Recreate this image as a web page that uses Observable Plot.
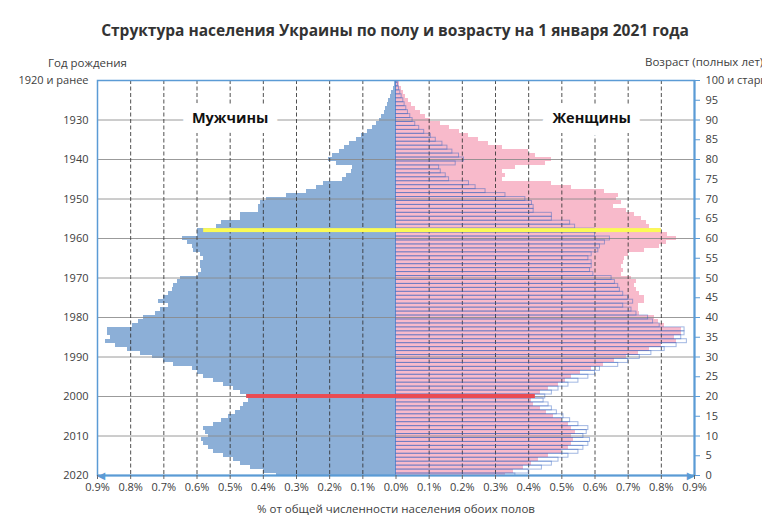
<!DOCTYPE html>
<html><head><meta charset="utf-8">
<script src="https://cdn.jsdelivr.net/npm/d3@7"></script>
<script src="https://cdn.jsdelivr.net/npm/@observablehq/plot@0.6"></script>
<style>
body{margin:0;background:#fff;font-family:"Open Sans",sans-serif;color:#404040}
#wrap{position:relative;width:762px;height:523px;overflow:hidden;background:#fff}
#title{position:absolute;top:20px;left:0;width:790px;line-height:20px;text-align:center;font-weight:bold;font-size:15.5px;color:#333}
.hdr{position:absolute;font-size:11.5px;line-height:16px;color:#404040;white-space:nowrap}
#chart{position:absolute;top:70px;left:0}
</style></head><body>
<div id="wrap">
<div id="title">Структура населения Украины по полу и возрасту на 1 января 2021 года</div>
<div class="hdr" style="left:48px;top:55px">Год рождения</div>
<div class="hdr" style="left:645px;top:54px">Возраст (полных лет)</div>
<div id="chart"></div>
</div>
<script>
// ---- data (share of total population, %, by completed age 0..100+) ----
const ages = d3.range(0, 101);
const male = [
0.36,0.40,0.44,0.47,0.49,0.52,0.55,0.565,0.58,0.585,
0.565,0.575,0.58,0.55,0.525,0.505,0.485,0.47,0.46,0.445,
0.45,0.47,0.49,0.52,0.55,0.58,0.60,0.615,0.67,0.70,
0.735,0.77,0.81,0.846,0.877,0.86,0.87,0.87,0.795,0.775,
0.76,0.725,0.71,0.685,0.715,0.70,0.685,0.675,0.67,0.66,
0.65,0.595,0.585,0.59,0.59,0.58,0.59,0.61,0.615,0.63,
0.645,0.60,0.60,0.54,0.525,0.47,0.47,0.415,0.415,0.41,
0.39,0.33,0.27,0.24,0.22,0.16,0.15,0.135,0.13,0.18,
0.205,0.19,0.17,0.155,0.14,0.12,0.105,0.085,0.07,0.058,
0.05,0.043,0.036,0.031,0.026,0.022,0.017,0.013,0.009,0.006,
0.004];
const female = [
0.33,0.355,0.385,0.41,0.43,0.46,0.50,0.52,0.53,0.535,
0.53,0.54,0.53,0.52,0.50,0.475,0.455,0.435,0.415,0.41,
0.42,0.435,0.46,0.49,0.51,0.53,0.555,0.59,0.625,0.66,
0.695,0.73,0.765,0.80,0.845,0.84,0.86,0.86,0.81,0.79,
0.78,0.735,0.73,0.73,0.75,0.75,0.735,0.725,0.72,0.725,
0.71,0.68,0.685,0.68,0.685,0.69,0.70,0.75,0.795,0.815,
0.845,0.82,0.80,0.765,0.755,0.74,0.72,0.695,0.655,0.68,
0.665,0.67,0.63,0.53,0.47,0.32,0.33,0.32,0.36,0.45,
0.47,0.42,0.40,0.32,0.28,0.25,0.22,0.19,0.16,0.135,
0.105,0.09,0.075,0.06,0.048,0.038,0.03,0.022,0.016,0.011,
0.01];
// highlighted cohorts: born 1958/59 (age 62) and born 2000 (age 20)
const highlightAges = [62, 20];
const highlightMale = [0.58, 0.45];
const highlightFemale = [0.80, 0.42];
// tick labels
const yearTickAges = [100, 90, 80, 70, 60, 50, 40, 30, 20, 10, 0];
const yearTickLabels = ["1920 и ранее", "1930", "1940", "1950", "1960", "1970", "1980", "1990", "2000", "2010", "2020"];
const ageTicks = [0, 5, 10, 15, 20, 25, 30, 35, 40, 45, 50, 55, 60, 65, 70, 75, 80, 85, 90, 95, 100];
const ageTickLabels = ["0","5","10","15","20","25","30","35","40","45","50","55","60","65","70","75","80","85","90","95","100 и старше"];
const xTicks = [-0.9,-0.8,-0.7,-0.6,-0.5,-0.4,-0.3,-0.2,-0.1,0,0.1,0.2,0.3,0.4,0.5,0.6,0.7,0.8,0.9];
const dashedTicks = [-0.8,-0.7,-0.6,-0.5,-0.4,-0.3,-0.2,-0.1,0.1,0.2,0.3,0.4,0.5,0.6,0.7,0.8];
const gridAges = [10, 20, 30, 40, 50, 60, 70, 80, 90];
const sexLabels = ["Мужчины", "Женщины"];
const xTitle = "% от общей численности населения обоих полов";

// ---- build ----
const rows = ages.map((a, i) => ({age: a, male: male[i], female: female[i]}));
const hl = highlightAges.map((a, i) => ({age: a, male: highlightMale[i], female: highlightFemale[i]}));
const BLUE = "#5b9bd5";
const y1 = d => d.age - 0.5, y2 = d => d.age + 0.5;

const chart = Plot.plot({
  width: 762, height: 453,
  marginTop: 10, marginBottom: 48, marginLeft: 97, marginRight: 68,
  style: {fontFamily: "Open Sans", fontSize: "11px", color: "#404040", background: "white", overflow: "visible"},
  x: {domain: [-0.9, 0.9], label: null},
  y: {domain: [0, 100], label: null},
  color: {type: "ordinal", domain: highlightAges, range: ["#fbfb55", "#ea4b52"]},
  marks: [
    Plot.rect(rows, {x1: 0, x2: d => -d.male, y1, y2, fill: "#8cafd7", clip: true, shapeRendering: "crispEdges"}),
    Plot.rect(rows, {x1: 0, x2: "female", y1, y2, fill: "#f8bacb", clip: true, shapeRendering: "crispEdges"}),
    Plot.ruleY(gridAges, {stroke: "#8a8a8a", strokeOpacity: 0.85}),
    Plot.ruleX(dashedTicks, {stroke: "#333", strokeDasharray: "4,2.5", strokeOpacity: 0.85}),
    Plot.rect(rows, {x1: 0, x2: "male", y1, y2, fill: "none", stroke: "#2f5fbf", strokeOpacity: 0.45, strokeWidth: 1, clip: true}),
    Plot.rect(hl, {x1: d => -d.male, x2: "female", y1, y2, fill: "age", clip: true}),
    Plot.text([sexLabels[0]], {x: -0.5, y: 90.5, fontSize: 14.5, fontWeight: "bold", fill: "#111", stroke: "white", strokeWidth: 20, strokeLinejoin: "round", paintOrder: "stroke"}),
    Plot.text([sexLabels[1]], {x: 0.59, y: 90.5, fontSize: 14.5, fontWeight: "bold", fill: "#111", stroke: "white", strokeWidth: 20, strokeLinejoin: "round", paintOrder: "stroke"}),
    Plot.frame({stroke: BLUE, strokeWidth: 1.5}),
    Plot.ruleX([0.9], {stroke: BLUE, strokeWidth: 2}),
    Plot.ruleY([0], {stroke: BLUE, strokeWidth: 2}),
    Plot.axisX({ticks: xTicks, tickFormat: d => Math.abs(d).toFixed(1) + "%", tickSize: 4, tickPadding: 4, label: null, stroke: "#666"}),
    Plot.axisY({anchor: "left", ticks: yearTickAges, tickFormat: d => yearTickLabels[yearTickAges.indexOf(d)], tickSize: 0, tickPadding: 9, label: null}),
    Plot.axisY({anchor: "right", ticks: ageTicks, tickFormat: d => ageTickLabels[ageTicks.indexOf(d)], tickSize: 5, tickPadding: 6, label: null, stroke: BLUE}),
    Plot.text(["◀"], {x: -0.9, y: 0, textAnchor: "start", fill: BLUE, fontSize: 10, fontFamily: "DejaVu Sans"}),
    Plot.text(["▶"], {x: 0.9, y: 0, textAnchor: "end", fill: BLUE, fontSize: 10, fontFamily: "DejaVu Sans"}),
    Plot.text([xTitle], {frameAnchor: "bottom", dy: 37, fontSize: 11.5, fill: "#404040"})
  ]
});
document.getElementById("chart").appendChild(chart);
</script>
</body></html>
